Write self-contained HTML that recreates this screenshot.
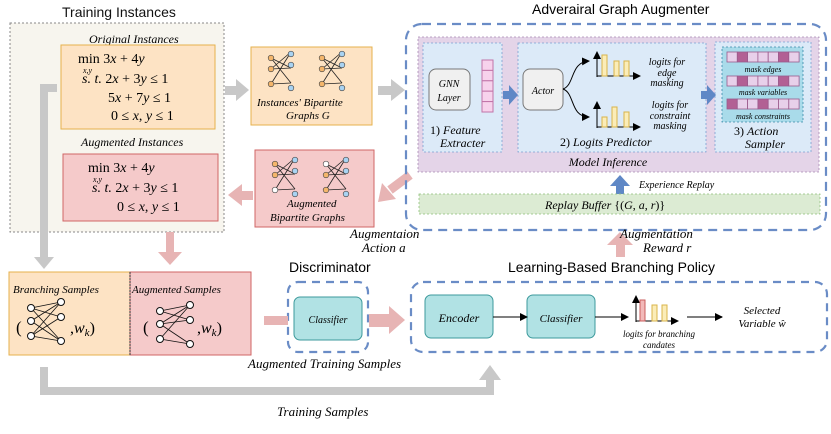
<!DOCTYPE html>
<html><head><meta charset="utf-8"><style>
body{margin:0;background:#fff;width:831px;height:429px;overflow:hidden}
svg text{font-family:"Liberation Serif",serif}
.s{font-family:"Liberation Sans",sans-serif;font-style:normal}
.i{font-style:italic}
</style></head><body>
<svg width="831" height="429" viewBox="0 0 831 429" xmlns="http://www.w3.org/2000/svg">
<defs>
<marker id="ah" markerWidth="8" markerHeight="8" refX="7" refY="4" orient="auto" markerUnits="userSpaceOnUse"><path d="M0,0 L8,4 L0,8 z" fill="#000"/></marker>
<g id="bg">
<g stroke="#222" stroke-width="0.8" fill="none">
<line x1="0" y1="0" x2="20" y2="10"/><line x1="0" y1="0" x2="20" y2="25"/><line x1="0" y1="11" x2="20" y2="-6"/><line x1="0" y1="11" x2="20" y2="10"/><line x1="0" y1="26" x2="20" y2="-6"/><line x1="0" y1="26" x2="20" y2="25"/></g>
</g>
</defs>
<!-- Training instances -->
<text x="62" y="17" class="s" font-size="14" fill="#111">Training Instances</text>
<rect x="10" y="23" width="214" height="209" fill="#f7f5ee" stroke="#888" stroke-dasharray="2,2"/>
<text x="89" y="43" class="i" font-size="12">Original Instances</text>
<rect x="61" y="45" width="154" height="84" fill="#fde3c4" stroke="#e6b14c"/>
<g font-size="14">
<text x="78" y="63">min 3<tspan class="i">x</tspan> + 4<tspan class="i">y</tspan></text>
<text x="83" y="73" font-size="8" class="i">x,y</text>
<text x="82" y="83" class="i">s. t. <tspan font-style="normal">2</tspan>x <tspan font-style="normal">+ 3</tspan>y <tspan font-style="normal">≤ 1</tspan></text>
<text x="108" y="102">5<tspan class="i">x</tspan> + 7<tspan class="i">y</tspan> ≤ 1</text>
<text x="111" y="120">0 ≤ <tspan class="i">x</tspan>, <tspan class="i">y</tspan> ≤ 1</text>
</g>
<text x="81" y="146" class="i" font-size="12">Augmented Instances</text>
<rect x="63" y="154" width="155" height="67" fill="#f5caca" stroke="#d06666"/>
<g font-size="14">
<text x="88" y="172">min 3<tspan class="i">x</tspan> + 4<tspan class="i">y</tspan></text>
<text x="93" y="182" font-size="8" class="i">x,y</text>
<text x="92" y="192" class="i">s. t. <tspan font-style="normal">2</tspan>x <tspan font-style="normal">+ 3</tspan>y <tspan font-style="normal">≤ 1</tspan></text>
<text x="117" y="211">0 ≤ <tspan class="i">x</tspan>, <tspan class="i">y</tspan> ≤ 1</text>
</g>
<!-- gray vertical arrow -->
<path d="M57,88 H44 V257" stroke="#c8c8c8" stroke-width="8" fill="none"/>
<path d="M34,257 H54 L44,269 z" fill="#c8c8c8"/>
<!-- pink down arrow -->
<rect x="166" y="232" width="8" height="22" fill="#e7b4b4"/>
<path d="M158,252 H182 L170,265 z" fill="#e7b4b4"/>
<!-- gray arrows right -->
<rect x="225" y="86" width="12" height="9" fill="#c8c8c8"/><path d="M236,79 L249,90 L236,101 z" fill="#c8c8c8"/>
<rect x="378" y="86" width="14" height="9" fill="#c8c8c8"/><path d="M391,79 L405,90 L391,101 z" fill="#c8c8c8"/>
<!-- graphs G -->
<rect x="251" y="47" width="121" height="78" fill="#fde3c4" stroke="#e6b14c"/>
<g transform="translate(271,58)"><use href="#bg"/>
<g stroke="#444" stroke-width="0.6"><circle cx="0" cy="0" r="2.8" fill="#f4b66c"/><circle cx="0" cy="11" r="2.8" fill="#f4b66c"/><circle cx="0" cy="26" r="2.8" fill="#f4b66c"/><circle cx="20" cy="-4" r="2.8" fill="#a9d3f2"/><circle cx="20" cy="7" r="2.8" fill="#a9d3f2"/><circle cx="20" cy="30" r="2.8" fill="#a9d3f2"/></g></g>
<g transform="translate(322,58)"><use href="#bg"/>
<g stroke="#444" stroke-width="0.6"><circle cx="0" cy="0" r="2.8" fill="#f4b66c"/><circle cx="0" cy="11" r="2.8" fill="#f4b66c"/><circle cx="0" cy="26" r="2.8" fill="#f4b66c"/><circle cx="20" cy="-4" r="2.8" fill="#a9d3f2"/><circle cx="20" cy="7" r="2.8" fill="#a9d3f2"/><circle cx="20" cy="30" r="2.8" fill="#a9d3f2"/></g></g>
<text x="257" y="106" class="i" font-size="11">Instances' Bipartite</text>
<text x="286" y="119" class="i" font-size="11">Graphs G</text>
<!-- augmented bipartite -->
<rect x="255" y="150" width="119" height="77" fill="#f5caca" stroke="#d06666"/>
<g transform="translate(275,164)"><use href="#bg"/>
<g stroke="#444" stroke-width="0.6"><circle cx="0" cy="0" r="2.8" fill="#f4b66c"/><circle cx="0" cy="11" r="2.8" fill="#f4b66c"/><circle cx="0" cy="26" r="2.8" fill="#fff"/><circle cx="20" cy="-4" r="2.8" fill="#a9d3f2"/><circle cx="20" cy="7" r="2.8" fill="#a9d3f2"/><circle cx="20" cy="30" r="2.8" fill="#a9d3f2"/></g></g>
<g transform="translate(326,164)"><use href="#bg"/>
<g stroke="#444" stroke-width="0.6"><circle cx="0" cy="0" r="2.8" fill="#fff"/><circle cx="0" cy="11" r="2.8" fill="#f4b66c"/><circle cx="0" cy="26" r="2.8" fill="#f4b66c"/><circle cx="20" cy="-4" r="2.8" fill="#a9d3f2"/><circle cx="20" cy="7" r="2.8" fill="#a9d3f2"/><circle cx="20" cy="30" r="2.8" fill="#a9d3f2"/></g></g>
<text x="287" y="207" class="i" font-size="11">Augmented</text>
<text x="270" y="221" class="i" font-size="11">Bipartite Graphs</text>
<!-- pink left arrow -->
<rect x="241" y="191" width="12" height="9" fill="#e7b4b4"/><path d="M242,184 L228,195 L242,206 z" fill="#e7b4b4"/>
<!-- pink diag arrow -->
<path d="M410,175 L390,190" stroke="#e7b4b4" stroke-width="9"/><path d="M378,202 L382,183 L396,199 z" fill="#e7b4b4"/>
<text x="350" y="238" class="i" font-size="13">Augmentaion</text>
<text x="362" y="252" class="i" font-size="13">Action a</text>
<!-- Augmenter -->
<text x="532" y="14" class="s" font-size="14">Adverairal Graph Augmenter</text>
<rect x="406" y="24" width="420" height="206" rx="16" fill="none" stroke="#6a8cc6" stroke-width="2.2" stroke-dasharray="9,6"/>
<rect x="418" y="37" width="401" height="135" fill="#e4d4e8" stroke="#a88ab3" stroke-dasharray="2,2" stroke-width="0.8"/>
<g fill="#dceaf8" stroke="#7b9fd0" stroke-dasharray="2,2" stroke-width="0.8">
<rect x="423" y="43" width="79" height="109"/><rect x="518" y="43" width="188" height="109"/><rect x="715" y="42" width="96" height="110"/></g>
<rect x="429" y="69" width="41" height="41" rx="7" fill="#f0f0f0" stroke="#777"/>
<text x="449" y="87" class="i" font-size="10" text-anchor="middle">GNN</text>
<text x="449" y="101" class="i" font-size="10" text-anchor="middle">Layer</text>
<g fill="#f7d2ec" stroke="#c174a8"><rect x="482" y="60" width="11" height="10.4"/><rect x="482" y="70.4" width="11" height="10.4"/><rect x="482" y="80.8" width="11" height="10.4"/><rect x="482" y="91.2" width="11" height="10.4"/><rect x="482" y="101.6" width="11" height="10.4"/></g>
<text x="430" y="134" font-size="12">1) <tspan class="i">Feature</tspan></text>
<text x="440" y="147" class="i" font-size="12">Extracter</text>
<path d="M503,91 h6 v-6 l9,10 l-9,10 v-6 h-6 z" fill="#5f88c6"/>
<rect x="523" y="69" width="40" height="41" rx="7" fill="#f0f0f0" stroke="#777"/>
<text x="543" y="94" class="i" font-size="10" text-anchor="middle">Actor</text>
<path d="M563,89 C575,85 570,62 589,61" stroke="#000" fill="none" marker-end="url(#ah)"/>
<path d="M563,89 C575,93 570,117 589,117" stroke="#000" fill="none" marker-end="url(#ah)"/>
<g stroke="#000" fill="none"><line x1="597" y1="77" x2="597" y2="52" marker-end="url(#ah)"/><line x1="597" y1="76" x2="640" y2="76" marker-end="url(#ah)"/>
<line x1="597" y1="128" x2="597" y2="102" marker-end="url(#ah)"/><line x1="597" y1="127" x2="640" y2="127" marker-end="url(#ah)"/></g>
<g fill="#fbedb8" stroke="#d9b44a"><rect x="602" y="55" width="5" height="21"/><rect x="614" y="61" width="5" height="15"/><rect x="624" y="61" width="5" height="15"/>
<rect x="602" y="117" width="5" height="10"/><rect x="612" y="107" width="5" height="20"/><rect x="624" y="112" width="5" height="15"/></g>
<g class="i" font-size="10" text-anchor="middle"><text x="667" y="65">logits for</text><text x="667" y="76">edge</text><text x="667" y="86">masking</text>
<text x="670" y="108">logits for</text><text x="670" y="119">constraint</text><text x="670" y="129">masking</text></g>
<text x="560" y="146" font-size="12">2) <tspan class="i">Logits Predictor</tspan></text>
<path d="M701,91 h6 v-6 l9,10 l-9,10 v-6 h-6 z" fill="#5f88c6"/>
<rect x="722" y="47" width="81" height="75" fill="#a9dbea" stroke="#3a8aa8" stroke-dasharray="2,2" stroke-width="0.8"/>
<g stroke="#9a5a8c" stroke-width="0.8">
<rect x="727" y="52" width="10.3" height="10" fill="#e8d0ea"/><rect x="737.3" y="52" width="10.3" height="10" fill="#b26094"/><rect x="747.6" y="52" width="10.3" height="10" fill="#e8d0ea"/><rect x="757.9" y="52" width="10.3" height="10" fill="#e8d0ea"/><rect x="768.2" y="52" width="10.3" height="10" fill="#e8d0ea"/><rect x="778.5" y="52" width="10.3" height="10" fill="#b26094"/><rect x="788.8" y="52" width="10.3" height="10" fill="#e8d0ea"/>
<rect x="727" y="76" width="10.3" height="10" fill="#e8d0ea"/><rect x="737.3" y="76" width="10.3" height="10" fill="#b26094"/><rect x="747.6" y="76" width="10.3" height="10" fill="#e8d0ea"/><rect x="757.9" y="76" width="10.3" height="10" fill="#e8d0ea"/><rect x="768.2" y="76" width="10.3" height="10" fill="#e8d0ea"/><rect x="778.5" y="76" width="10.3" height="10" fill="#b26094"/><rect x="788.8" y="76" width="10.3" height="10" fill="#e8d0ea"/>
<rect x="727" y="99" width="10.3" height="10" fill="#b26094"/><rect x="737.3" y="99" width="10.3" height="10" fill="#e8d0ea"/><rect x="747.6" y="99" width="10.3" height="10" fill="#e8d0ea"/><rect x="757.9" y="99" width="10.3" height="10" fill="#b26094"/><rect x="768.2" y="99" width="10.3" height="10" fill="#e8d0ea"/><rect x="778.5" y="99" width="10.3" height="10" fill="#e8d0ea"/><rect x="788.8" y="99" width="10.3" height="10" fill="#e8d0ea"/></g>
<g class="i" font-size="8" text-anchor="middle"><text x="763" y="72">mask edges</text><text x="763" y="95">mask variables</text><text x="763" y="119">mask constraints</text></g>
<text x="734" y="135" font-size="12">3) <tspan class="i">Action</tspan></text>
<text x="745" y="148" class="i" font-size="12">Sampler</text>
<text x="608" y="166" class="i" font-size="12" text-anchor="middle">Model Inference</text>
<rect x="616" y="185" width="8" height="9" fill="#5f88c6"/><path d="M610,186 L620,175 L630,186 z" fill="#5f88c6"/>
<text x="639" y="188" class="i" font-size="10">Experience Replay</text>
<rect x="419" y="194" width="401" height="20" fill="#dcebd3" stroke="#8fc07a" stroke-dasharray="2,2" stroke-width="0.8"/>
<text x="545" y="209" class="i" font-size="12">Replay Buffer <tspan font-style="normal">{(</tspan>G<tspan font-style="normal">, </tspan>a<tspan font-style="normal">, </tspan>r<tspan font-style="normal">)}</tspan></text>
<!-- reward arrow -->
<rect x="616" y="243" width="9" height="14" fill="#e7b4b4"/><path d="M607,245 L620,232 L633,245 z" fill="#e7b4b4"/>
<text x="620" y="238" class="i" font-size="13">Augmentation</text>
<text x="643" y="252" class="i" font-size="13">Reward r</text>
<!-- bottom samples -->
<rect x="9" y="272" width="121" height="83" fill="#fde3c4" stroke="#e6b14c"/>
<rect x="130" y="272" width="121" height="83" fill="#f5caca" stroke="#d06666"/>
<line x1="130" y1="272" x2="130" y2="355" stroke="#333" stroke-dasharray="2,1"/>
<text x="13" y="293" class="i" font-size="11">Branching Samples</text>
<text x="132" y="293" class="i" font-size="11">Augmented Samples</text>
<g transform="translate(31,308)"><g stroke="#111" stroke-width="0.8"><line x1="0" y1="0" x2="30" y2="-6"/><line x1="0" y1="0" x2="30" y2="9"/><line x1="0" y1="0" x2="30" y2="33"/><line x1="0" y1="13" x2="30" y2="-6"/><line x1="0" y1="13" x2="30" y2="33"/><line x1="0" y1="28" x2="30" y2="-6"/><line x1="0" y1="28" x2="30" y2="9"/><line x1="0" y1="28" x2="30" y2="33"/></g>
<g fill="#fff" stroke="#111"><circle cx="0" cy="0" r="3.5"/><circle cx="0" cy="13" r="3.5"/><circle cx="0" cy="28" r="3.5"/><circle cx="30" cy="-6" r="3.5"/><circle cx="30" cy="9" r="3.5"/><circle cx="30" cy="33" r="3.5"/></g></g>
<g transform="translate(160,311)"><g stroke="#111" stroke-width="0.8"><line x1="0" y1="0" x2="30" y2="-6"/><line x1="0" y1="0" x2="30" y2="9"/><line x1="0" y1="13" x2="30" y2="-6"/><line x1="0" y1="13" x2="30" y2="9"/><line x1="0" y1="28" x2="30" y2="-6"/><line x1="0" y1="28" x2="30" y2="33"/><line x1="0" y1="13" x2="30" y2="33"/></g>
<g fill="#fff" stroke="#111"><circle cx="0" cy="0" r="3.5"/><circle cx="0" cy="13" r="3.5"/><circle cx="0" cy="28" r="3.5"/><circle cx="30" cy="-6" r="3.5"/><circle cx="30" cy="9" r="3.5"/><circle cx="30" cy="33" r="3.5"/></g></g>
<text x="16" y="333" font-size="17">(</text><text x="70" y="333" font-size="16">,<tspan class="i">w</tspan><tspan font-size="11" class="i" dy="3">k</tspan><tspan dy="-3">)</tspan></text>
<text x="143" y="333" font-size="17">(</text><text x="197" y="333" font-size="16">,<tspan class="i">w</tspan><tspan font-size="11" class="i" dy="3">k</tspan><tspan dy="-3">)</tspan></text>
<!-- discriminator -->
<text x="289" y="272" class="s" font-size="14">Discriminator</text>
<rect x="288" y="282" width="80" height="70" rx="10" fill="none" stroke="#6a8cc6" stroke-width="2.2" stroke-dasharray="8,6"/>
<rect x="294" y="297" width="68" height="43" rx="6" fill="#b1e2e4" stroke="#3d9a9c"/>
<text x="328" y="323" class="i" font-size="10" text-anchor="middle">Classifier</text>
<rect x="264" y="316" width="24" height="9" fill="#e7b4b4"/>
<rect x="369" y="314" width="22" height="13" fill="#e7b4b4"/><path d="M389,306 L405,320 L389,334 z" fill="#e7b4b4"/>
<text x="248" y="368" class="i" font-size="13">Augmented Training Samples</text>
<!-- branching policy -->
<text x="508" y="272" class="s" font-size="14">Learning-Based Branching Policy</text>
<rect x="411" y="282" width="416" height="70" rx="12" fill="none" stroke="#6a8cc6" stroke-width="2.2" stroke-dasharray="8,6"/>
<rect x="425" y="295" width="68" height="43" rx="6" fill="#b1e2e4" stroke="#3d9a9c"/>
<text x="459" y="322" class="i" font-size="12" text-anchor="middle">Encoder</text>
<rect x="527" y="295" width="68" height="43" rx="6" fill="#b1e2e4" stroke="#3d9a9c"/>
<text x="561" y="322" class="i" font-size="11" text-anchor="middle">Classifier</text>
<g stroke="#000" fill="none"><line x1="493" y1="317" x2="527" y2="317" marker-end="url(#ah)"/><line x1="595" y1="317" x2="628" y2="317" marker-end="url(#ah)"/>
<line x1="636" y1="322" x2="636" y2="296" marker-end="url(#ah)"/><line x1="636" y1="321" x2="678" y2="321" marker-end="url(#ah)"/></g>
<line x1="687" y1="317" x2="722" y2="317" stroke="#555" stroke-width="1.5" marker-end="url(#ah)"/>
<rect x="640" y="300" width="5" height="21" fill="#f2b9b9" stroke="#c95d5d"/>
<rect x="652" y="305" width="5" height="16" fill="#fbedb8" stroke="#d9b44a"/><rect x="662" y="305" width="5" height="16" fill="#fbedb8" stroke="#d9b44a"/>
<g class="i" font-size="9" text-anchor="middle"><text x="659" y="337">logits for branching</text><text x="659" y="348">candates</text></g>
<g class="i" font-size="11" text-anchor="middle"><text x="762" y="314">Selected</text><text x="762" y="327">Variable ŵ</text></g>
<!-- training samples arrow -->
<path d="M44,367 V391 H490 V378" stroke="#c8c8c8" stroke-width="8" fill="none"/>
<path d="M479,380 L490,365 L501,380 z" fill="#c8c8c8"/>
<text x="277" y="416" class="i" font-size="13">Training Samples</text>
</svg>
</body></html>
